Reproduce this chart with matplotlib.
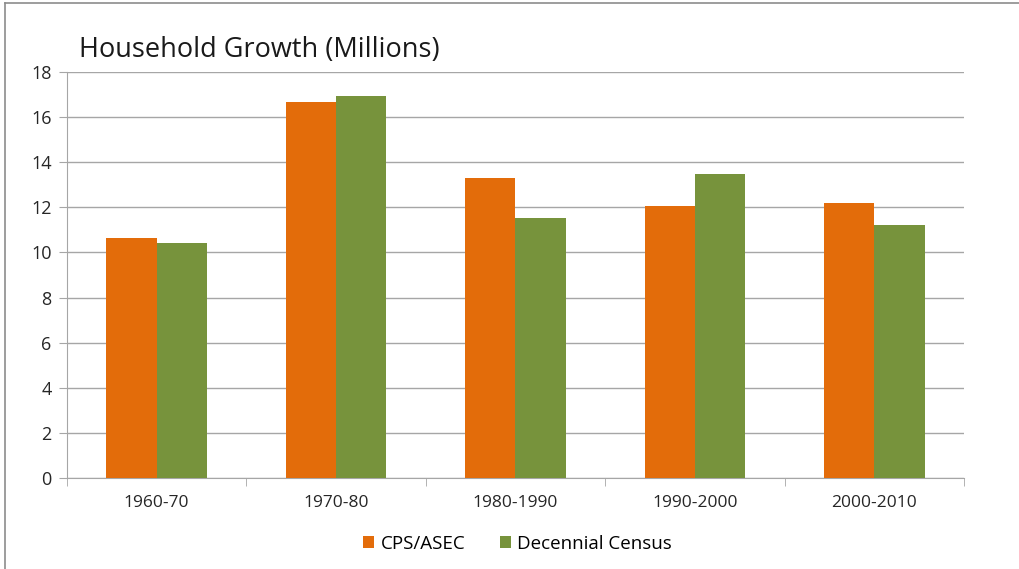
import matplotlib.pyplot as plt
import numpy as np
from matplotlib.lines import Line2D

periods = ["1960-70", "1970-80", "1980-1990", "1990-2000", "2000-2010"]
cps_asec = [10.64, 16.67, 13.30, 12.06, 12.18]
decennial = [10.42, 16.93, 11.51, 13.49, 11.21]
yticks = [0, 2, 4, 6, 8, 10, 12, 14, 16, 18]

plt.rcParams['font.family'] = ['Open Sans', 'DejaVu Sans']

fig = plt.figure(figsize=(10.19, 5.69), dpi=100)
ax = fig.add_axes([0.0657, 0.160, 0.8803, 0.7135])

x = np.arange(len(periods))
w = 0.28
ax.bar(x - w / 2, cps_asec, w, color='#E36C0A', label='CPS/ASEC', zorder=3)
ax.bar(x + w / 2, decennial, w, color='#77933C', label='Decennial Census', zorder=3)

ax.set_xlim(-0.5, len(periods) - 0.5)
ax.set_ylim(0, 18)
ax.set_yticks(yticks)
ax.yaxis.grid(True, color='#a6a6a6', linewidth=1)
ax.set_axisbelow(True)

ax.set_xticks(x)
ax.set_xticklabels(periods)
ax.set_xticks(np.arange(-0.5, len(periods)), minor=True)
ax.tick_params(axis='x', which='major', length=0, pad=12, labelsize=12.5, colors='#262626')
ax.tick_params(axis='x', which='minor', length=6, color='#a6a6a6')
ax.tick_params(axis='y', length=6, color='#a6a6a6', labelsize=13, labelcolor='#262626', pad=5)

for s in ['top', 'right']:
    ax.spines[s].set_visible(False)
for s in ['left', 'bottom']:
    ax.spines[s].set_color('#a6a6a6')

fig.text(0.078, 0.900, 'Household Growth (Millions)', fontsize=19.5, color='#1a1a1a')

fig.legend(loc='center', bbox_to_anchor=(0.508, 0.044), ncol=2, frameon=False,
           handlelength=0.6, handleheight=0.6, handletextpad=0.35, columnspacing=1.8,
           fontsize=13.5)

# outer frame lines (left and top)
fig.add_artist(Line2D([0.005, 0.005], [0, 0.995], color='#8c8c8c', linewidth=1.2, transform=fig.transFigure))
fig.add_artist(Line2D([0.005, 1.0], [0.995, 0.995], color='#8c8c8c', linewidth=1.2, transform=fig.transFigure))

fig.savefig('out.png', dpi=100)
